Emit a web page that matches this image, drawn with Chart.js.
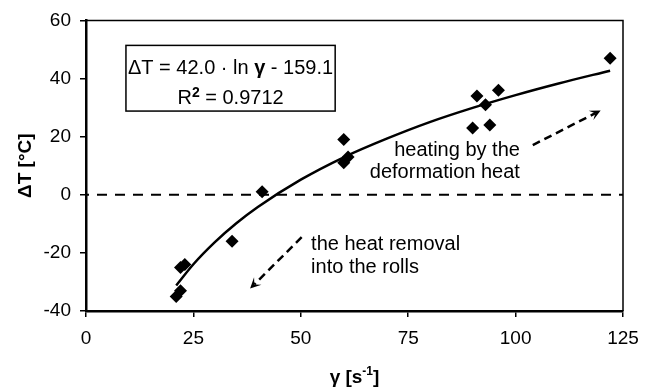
<!DOCTYPE html>
<html>
<head>
<meta charset="utf-8">
<script src="https://cdn.jsdelivr.net/npm/chart.js@4/dist/chart.umd.min.js"></script>
<style>
html,body{margin:0;padding:0;background:#fff;}
#wrap{width:655px;height:389px;position:relative;}
</style>
</head>
<body>
<div id="wrap"><canvas id="c" width="655" height="389"></canvas></div>
<script>
// Measured points (shear rate γ [1/s], temperature change ΔT [°C])
const gammaValues = [21, 22, 22, 23, 34, 41, 60, 60, 61, 90, 91, 93, 94, 96, 122];
const deltaTValues = [-35, -33, -25, -24, -16, 1, 19, 11, 13, 23, 34, 31, 24, 36, 47];

// Trend line (ΔT = 42.0·ln γ − 159.1)
const trendGamma = [21, 25, 30, 35, 40, 50, 60, 70, 80, 90, 100, 110, 122];
const trendDeltaT = [-31.2, -23.9, -16.3, -9.8, -4.2, 5.2, 12.9, 19.3, 25.0, 29.9, 34.3, 38.3, 42.7];

// Axis ticks
const xTicks = [0, 25, 50, 75, 100, 125];
const yTicks = [-40, -20, 0, 20, 40, 60];

// Zero reference line
const zeroLineX = [0, 125];
const zeroLineY = [0, 0];

const FONT = "'Liberation Sans', Arial, Helvetica, sans-serif";

const points = gammaValues.map((g, i) => ({x: g, y: deltaTValues[i]}));
const trend = trendGamma.map((g, i) => ({x: g, y: trendDeltaT[i]}));
const zero = zeroLineX.map((g, i) => ({x: g, y: zeroLineY[i]}));

// Annotation placement (in data coordinates)
const annot = {
  box: {x1: 9.3, x2: 58.0, y1: 51.4, y2: 28.8, line1: 41.4, line2: 31.1},
  heat: {x: 101.0, y1: 13.4, y2: 5.9, lines: ['heating by the', 'deformation heat']},
  removal: {x: 52.4, y1: -19.0, y2: -27.0, lines: ['the heat removal', 'into the rolls']},
  arrowUp: {x1: 104.0, y1: 17.1, x2: 119.8, y2: 29.0},
  arrowDown: {x1: 50.2, y1: -14.6, x2: 38.2, y2: -32.3}
};

function drawArrow(ctx, x1, y1, x2, y2) {
  const ang = Math.atan2(y2 - y1, x2 - x1);
  const headLen = 12;
  ctx.save();
  ctx.strokeStyle = '#000';
  ctx.fillStyle = '#000';
  ctx.lineWidth = 2.5;
  ctx.setLineDash([8, 5]);
  ctx.beginPath();
  ctx.moveTo(x1, y1);
  ctx.lineTo(x2 - Math.cos(ang) * 6, y2 - Math.sin(ang) * 6);
  ctx.stroke();
  ctx.setLineDash([]);
  const a1 = ang + Math.PI - 0.45, a2 = ang + Math.PI + 0.45;
  ctx.beginPath();
  ctx.moveTo(x2, y2);
  ctx.lineTo(x2 + Math.cos(a1) * headLen, y2 + Math.sin(a1) * headLen);
  ctx.lineTo(x2 + Math.cos(ang + Math.PI) * headLen * 0.5, y2 + Math.sin(ang + Math.PI) * headLen * 0.5);
  ctx.lineTo(x2 + Math.cos(a2) * headLen, y2 + Math.sin(a2) * headLen);
  ctx.closePath();
  ctx.fill();
  ctx.restore();
}

const annotPlugin = {
  id: 'annot',
  beforeDatasetsDraw(chart) {
    const {ctx, chartArea: ca} = chart;
    ctx.save();
    ctx.strokeStyle = '#000';
    ctx.lineWidth = 1.5;
    ctx.beginPath();
    ctx.moveTo(ca.left, ca.top);
    ctx.lineTo(ca.right, ca.top);
    ctx.lineTo(ca.right, ca.bottom);
    ctx.stroke();
    ctx.restore();
  },
  afterDatasetsDraw(chart) {
    const {ctx} = chart;
    const xs = chart.scales.x, ys = chart.scales.y;
    const px = v => xs.getPixelForValue(v), py = v => ys.getPixelForValue(v);
    ctx.save();
    // Equation box
    const b = annot.box;
    const bx1 = px(b.x1), bx2 = px(b.x2), by1 = py(b.y1), by2 = py(b.y2);
    ctx.fillStyle = '#fff';
    ctx.fillRect(bx1, by1, bx2 - bx1, by2 - by1);
    ctx.strokeStyle = '#000';
    ctx.lineWidth = 1.5;
    ctx.strokeRect(bx1, by1, bx2 - bx1, by2 - by1);
    const cx = (bx1 + bx2) / 2;
    ctx.fillStyle = '#000';
    ctx.textBaseline = 'alphabetic';
    ctx.textAlign = 'left';
    const fN = '20px ' + FONT, fB = 'bold 20px ' + FONT;
    const segs = [['ΔT = 42.0 · ln ', fN], ['γ', fB], [' - 159.1', fN]];
    let w = 0;
    segs.forEach(s => { ctx.font = s[1]; w += ctx.measureText(s[0]).width; });
    let x = cx - w / 2;
    segs.forEach(s => { ctx.font = s[1]; ctx.fillText(s[0], x, py(b.line1)); x += ctx.measureText(s[0]).width; });
    ctx.font = fN;
    const wR = ctx.measureText('R').width;
    ctx.font = 'bold 14px ' + FONT;
    const w2 = ctx.measureText('2').width;
    ctx.font = fN;
    const wRest = ctx.measureText(' = 0.9712').width;
    x = cx - (wR + w2 + wRest) / 2;
    const base2 = py(b.line2);
    ctx.fillText('R', x, base2); x += wR;
    ctx.font = 'bold 14px ' + FONT;
    ctx.fillText('2', x, base2 - 7); x += w2;
    ctx.font = fN;
    ctx.fillText(' = 0.9712', x, base2);

    ctx.font = fN;
    ctx.textAlign = 'right';
    ctx.fillText(annot.heat.lines[0], px(annot.heat.x), py(annot.heat.y1));
    ctx.fillText(annot.heat.lines[1], px(annot.heat.x), py(annot.heat.y2));
    ctx.textAlign = 'left';
    ctx.fillText(annot.removal.lines[0], px(annot.removal.x), py(annot.removal.y1));
    ctx.fillText(annot.removal.lines[1], px(annot.removal.x), py(annot.removal.y2));

    const a = annot.arrowUp, d = annot.arrowDown;
    drawArrow(ctx, px(a.x1), py(a.y1), px(a.x2), py(a.y2));
    drawArrow(ctx, px(d.x1), py(d.y1), px(d.x2), py(d.y2));

    // X axis title with superscript
    const ca = chart.chartArea;
    const tcx = (ca.left + ca.right) / 2;
    const tb = 383;
    const t1 = 'γ [s', t2 = '-1', t3 = ']';
    ctx.font = 'bold 19px ' + FONT;
    const w1 = ctx.measureText(t1).width, w3 = ctx.measureText(t3).width;
    ctx.font = 'bold 12px ' + FONT;
    const wS = ctx.measureText(t2).width;
    x = tcx - (w1 + wS + w3) / 2;
    ctx.font = 'bold 19px ' + FONT;
    ctx.fillText(t1, x, tb); x += w1;
    ctx.font = 'bold 12px ' + FONT;
    ctx.fillText(t2, x, tb - 8); x += wS;
    ctx.font = 'bold 19px ' + FONT;
    ctx.fillText(t3, x, tb);
    ctx.restore();
  }
};

new Chart(document.getElementById('c'), {
  type: 'scatter',
  data: {
    datasets: [
      {
        label: 'zero',
        data: zero,
        showLine: true,
        borderColor: '#000',
        borderWidth: 2,
        borderDash: [10, 8],
        borderDashOffset: 7,
        pointRadius: 0,
        order: 3
      },
      {
        label: 'trend',
        data: trend,
        showLine: true,
        borderColor: '#000',
        borderWidth: 2.5,
        pointRadius: 0,
        cubicInterpolationMode: 'monotone',
        order: 2
      },
      {
        label: 'measured',
        data: points,
        pointStyle: 'rectRot',
        pointRadius: 6.5,
        pointBackgroundColor: '#000',
        pointBorderColor: '#000',
        pointBorderWidth: 0,
        showLine: false,
        order: 1
      }
    ]
  },
  options: {
    responsive: false,
    animation: false,
    layout: {padding: {left: 0, right: 32, top: 19, bottom: 0}},
    plugins: {legend: {display: false}, tooltip: {enabled: false}},
    scales: {
      x: {
        type: 'linear',
        min: 0, max: 125,
        afterBuildTicks: s => { s.ticks = xTicks.map(v => ({value: v})); },
        afterFit: s => { s.height = 78; },
        border: {display: true, color: '#000', width: 2.5},
        grid: {display: true, drawOnChartArea: false, drawTicks: true, tickLength: 6, color: '#000', lineWidth: 1.5},
        ticks: {color: '#000', font: {family: FONT, size: 19}, padding: 10, maxRotation: 0}
      },
      y: {
        type: 'linear',
        min: -40, max: 60,
        afterBuildTicks: s => { s.ticks = yTicks.map(v => ({value: v})); },
        afterFit: s => { s.width = 86; },
        border: {display: true, color: '#000', width: 2.5},
        grid: {display: true, drawOnChartArea: false, drawTicks: true, tickLength: 6, color: '#000', lineWidth: 1.5},
        ticks: {color: '#000', font: {family: FONT, size: 19}, padding: 9},
        title: {display: true, text: 'ΔT [°C]', color: '#000', font: {family: FONT, size: 19, weight: 'bold'}, padding: {top: 14, bottom: 0}}
      }
    }
  },
  plugins: [annotPlugin]
});
</script>
</body>
</html>
